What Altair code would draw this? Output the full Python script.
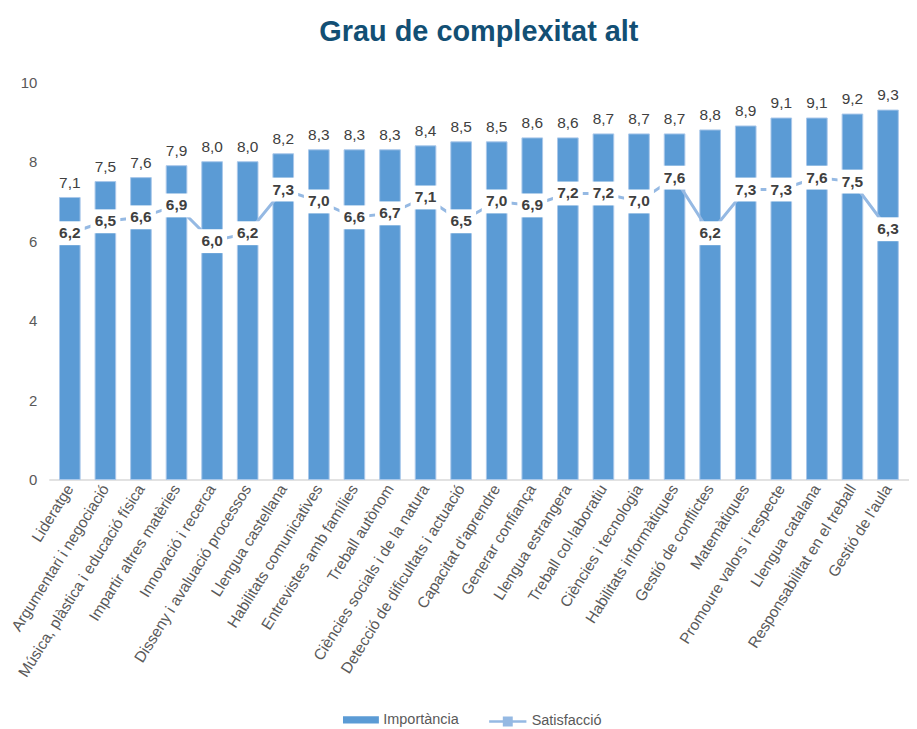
import altair as alt
import pandas as pd

categories = ["Lideratge", "Argumentari i negociació", "Música, plàstica i educació física",
              "Impartir altres matèries", "Innovació i recerca", "Disseny i avaluació processos",
              "Llengua castellana", "Habilitats comunicatives", "Entrevistes amb famílies",
              "Treball autònom", "Ciències socials i de la natura", "Detecció de dificultats i actuació",
              "Capacitat d'aprendre", "Generar confiança", "Llengua estrangera", "Treball col·laboratiu",
              "Ciències i tecnologia", "Habilitats informàtiques", "Gestió de conflictes", "Matemàtiques",
              "Promoure valors i respecte", "Llengua catalana", "Responsabilitat en el treball", "Gestió de l'aula"]
importancia = [7.1, 7.5, 7.6, 7.9, 8.0, 8.0, 8.2, 8.3, 8.3, 8.3, 8.4, 8.5, 8.5, 8.6, 8.6, 8.7,
               8.7, 8.7, 8.8, 8.9, 9.1, 9.1, 9.2, 9.3]
satisfaccio = [6.2, 6.5, 6.6, 6.9, 6.0, 6.2, 7.3, 7.0, 6.6, 6.7, 7.1, 6.5, 7.0, 6.9, 7.2, 7.2,
               7.0, 7.6, 6.2, 7.3, 7.3, 7.6, 7.5, 6.3]

df = pd.DataFrame({
    "cat": categories,
    "imp": importancia,
    "sat": satisfaccio,
})
df["imp_lbl"] = [f"{v:.1f}".replace(".", ",") for v in df["imp"]]
df["sat_lbl"] = [f"{v:.1f}".replace(".", ",") for v in df["sat"]]
df["s1"] = "Importància"
df["s2"] = "Satisfacció"

FONT = "Liberation Sans"
BAR = "#5B9BD5"
LINE = "#95B9E3"

x = alt.X("cat:N", sort=None, title=None,
          scale=alt.Scale(paddingInner=0.42, paddingOuter=0.3),
          axis=alt.Axis(labelAngle=-58, labelAlign="right", labelBaseline="middle",
                        labelFontSize=15.5, labelColor="#595959", labelFont=FONT,
                        ticks=False, domainColor="#D9D9D9", domainWidth=1.5,
                        labelPadding=6, labelLimit=400))
y_scale = alt.Scale(domain=[0, 10])
y = alt.Y("imp:Q", title=None, scale=y_scale,
          axis=alt.Axis(values=list(range(0, 11)), labelFontSize=15, labelColor="#595959",
                        labelFont=FONT, ticks=False, domain=False, grid=False,
                        labelPadding=12, labelOverlap=False))

base = alt.Chart(df)

bars = base.mark_bar(stroke="#A9C8EA", strokeWidth=1).encode(
    x=x, y=y,
    color=alt.Color("s1:N", title=None,
                    scale=alt.Scale(domain=["Importància"], range=[BAR]),
                    legend=alt.Legend(orient="none", legendX=295, legendY=622,
                                      symbolType="M-1,-0.2H1V0.2H-1Z",
                                      symbolSize=1300, labelFontSize=14.5, labelFont=FONT,
                                      labelColor="#595959", symbolStrokeWidth=0)),
)

imp_text = base.mark_text(dy=-15, fontSize=15.5, font=FONT, color="#404040").encode(
    x=x, y=alt.Y("imp:Q", scale=y_scale), text="imp_lbl:N")

line = base.mark_line(strokeWidth=3).encode(
    x=x, y=alt.Y("sat:Q", scale=y_scale),
    stroke=alt.Stroke("s2:N", title=None,
                      scale=alt.Scale(domain=["Satisfacció"], range=[LINE]),
                      legend=alt.Legend(orient="none", legendX=441, legendY=622,
                                        symbolType="M-1,0H1M-0.2,-0.2H0.2V0.2H-0.2Z",
                                        symbolSize=1400, symbolStrokeWidth=2.5,
                                        symbolFillColor=LINE,
                                        labelFontSize=14.5, labelFont=FONT,
                                        labelColor="#595959")),
)

boxes = base.mark_point(shape="M-1,-0.8H1V0.8H-1Z", size=30 * 30, filled=True,
                        fill="white", opacity=1, strokeWidth=0).encode(
    x=x, y=alt.Y("sat:Q", scale=y_scale))

sat_text = base.mark_text(fontSize=15.5, fontWeight="bold", font=FONT, color="#404040").encode(
    x=x, y=alt.Y("sat:Q", scale=y_scale), text="sat_lbl:N")

chart = alt.layer(bars, imp_text, line, boxes, sat_text).properties(
    width=864, height=399,
    title=alt.TitleParams("Grau de complexitat alt", fontSize=29, fontWeight="bold",
                          font=FONT, color="#124F74", offset=28, anchor="middle"),
).configure(padding={"top": 9, "left": 0, "right": 0, "bottom": 0}).configure_view(
    stroke=None).resolve_scale(color="independent", stroke="independent")

chart.save("out.html", embed_options={"renderer": "svg", "actions": False})
